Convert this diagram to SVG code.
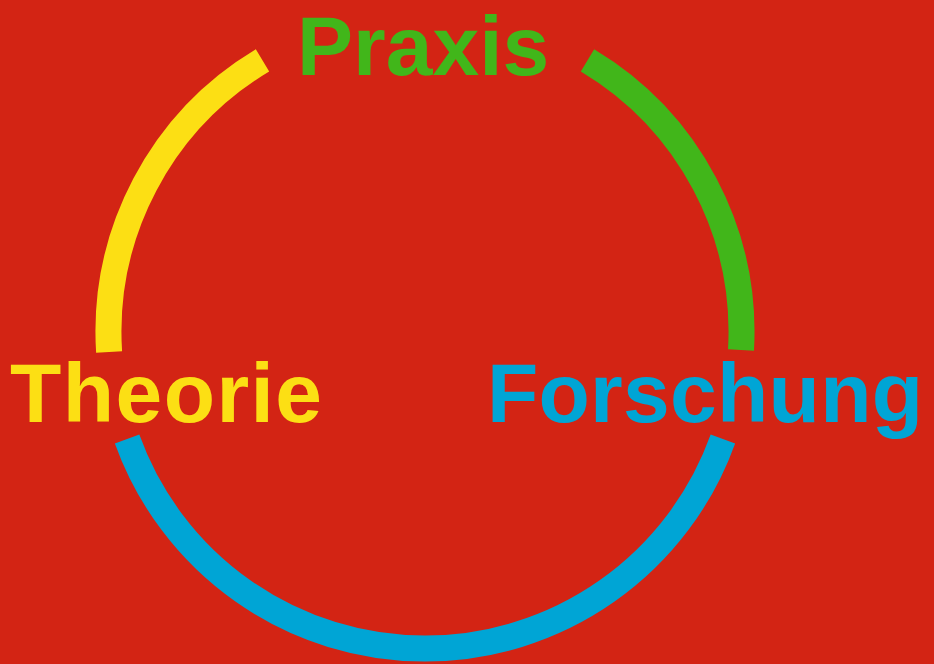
<svg xmlns="http://www.w3.org/2000/svg" width="934" height="664" viewBox="0 0 934 664">
  <style>
    .arc { fill: none; stroke-width: 26; stroke-linecap: butt; }
    .lbl { font-family: "Liberation Sans", Arial, Helvetica, sans-serif; font-weight: bold; font-size: 84px; }
  </style>
  <rect x="0" y="0" width="934" height="664" fill="#D32414"/>
  <g id="connectors">
    <path id="arc-theorie-praxis" class="arc" stroke="#FCDF14" d="M 109.1 352 A 316.5 316.5 0 0 1 262.5 60.4"/>
    <path id="arc-praxis-forschung" class="arc" stroke="#41B61A" d="M 587.5 60.4 A 316.5 316.5 0 0 1 741 350"/>
    <path id="arc-forschung-theorie" class="arc" stroke="#00A5D5" d="M 722.9 439 A 316.5 316.5 0 0 1 127.1 439"/>
  </g>
  <g id="node-praxis">
    <text class="lbl" x="297" y="75" fill="#41B61A">Praxis</text>
  </g>
  <g id="node-theorie">
    <text class="lbl" x="10" y="422" fill="#FCDF14" textLength="312" lengthAdjust="spacing">Theorie</text>
  </g>
  <g id="node-forschung">
    <text class="lbl" x="487" y="422" fill="#00A5D5" textLength="436" lengthAdjust="spacing">Forschung</text>
  </g>
</svg>
